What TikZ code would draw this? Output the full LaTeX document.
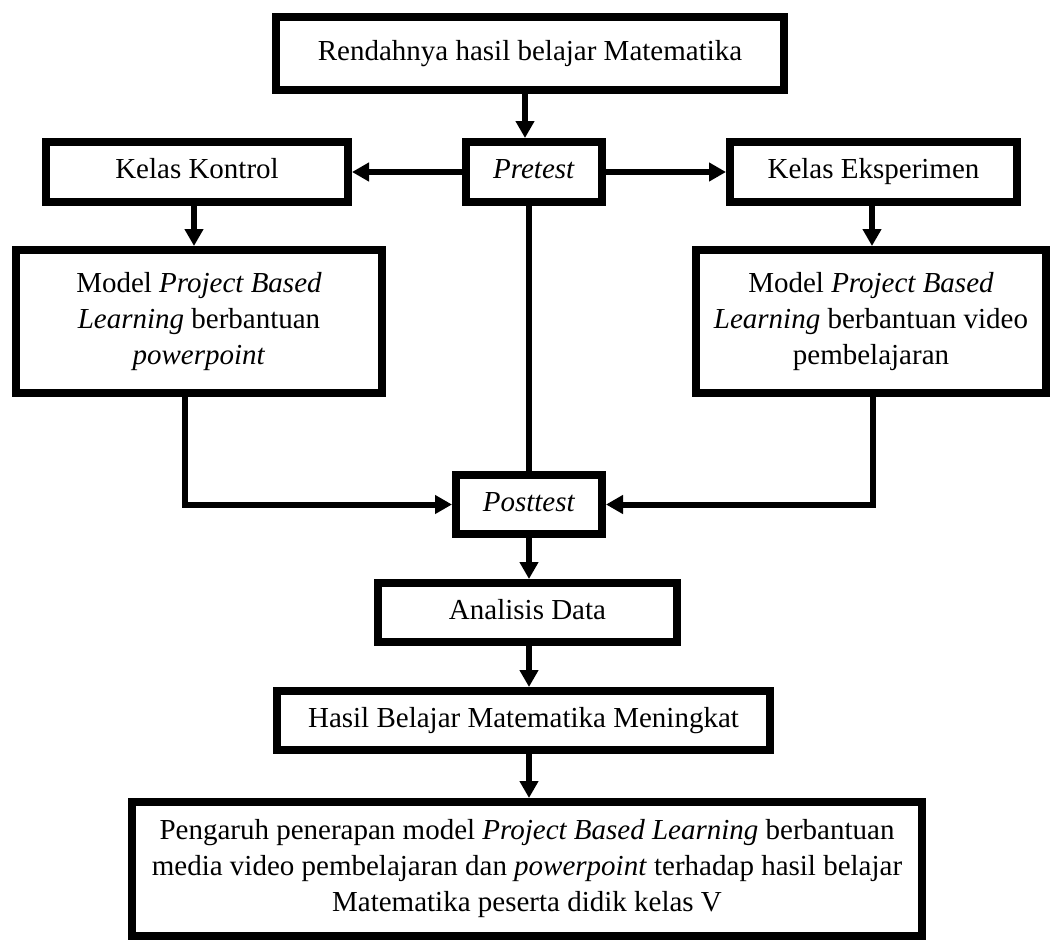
\documentclass[tikz,border=0pt]{standalone}
\usepackage{fontspec}
\setmainfont{Liberation Serif}
\usetikzlibrary{arrows.meta}
\tikzset{
  box/.style={draw=black, line width=8bp, inner sep=0pt, align=center,
    font=\fontsize{29bp}{36bp}\selectfont},
  oneline/.style={text height=19bp, text depth=6bp},
  arr/.style={line width=6bp, -{Triangle[length=17bp,width=18bp]}},
  plain/.style={line width=6bp}
}
\begin{document}
\begin{tikzpicture}[x=1bp,y=-1bp]
\useasboundingbox[fill=white] (0,0) rectangle (1053,945);
\node[box, oneline, minimum width=508bp, minimum height=73bp] (top) at (530,53.5) {Rendahnya hasil belajar Matematika};
\node[box, oneline, minimum width=136bp, minimum height=60bp] (pre) at (534,172) {\textit{Pretest}};
\node[box, oneline, minimum width=302bp, minimum height=60bp] (kk) at (197,172) {Kelas Kontrol};
\node[box, oneline, minimum width=287bp, minimum height=60bp] (ke) at (873.5,172) {Kelas Eksperimen};
\node[box, minimum width=366bp, minimum height=143bp] (ml) at (199,321.5) {Model \textit{Project Based}\\\textit{Learning} berbantuan\\\textit{powerpoint}};
\node[box, minimum width=350bp, minimum height=143bp] (mr) at (871,321.5) {Model \textit{Project Based}\\\textit{Learning} berbantuan video\\pembelajaran};
\node[box, oneline, minimum width=146bp, minimum height=59bp] (post) at (529,504.5) {\textit{Posttest}};
\node[box, oneline, minimum width=299bp, minimum height=59bp] (ana) at (527.5,612.5) {Analisis Data};
\node[box, oneline, minimum width=493bp, minimum height=59bp] (has) at (523.5,720.5) {Hasil Belajar Matematika Meningkat};
\node[box, minimum width=790bp, minimum height=134bp] (fin) at (527,869) {Pengaruh penerapan model \textit{Project Based Learning} berbantuan\\media video pembelajaran dan \textit{powerpoint} terhadap hasil belajar\\Matematika peserta didik kelas V};
\draw[arr] ([xshift=-5bp]top.south) -- ([xshift=-5bp]top.south |- pre.north);
\draw[arr] (pre.west) -- (kk.east);
\draw[arr] (pre.east) -- (ke.west);
\draw[arr] ([xshift=-3bp]kk.south) -- ([xshift=-3bp]kk.south |- ml.north);
\draw[arr] ([xshift=-1.5bp]ke.south) -- ([xshift=-1.5bp]ke.south |- mr.north);
\draw[plain] (pre.south -| post.north) -- (post.north);
\draw[arr] ([xshift=-14bp]ml.south) |- (post.west);
\draw[arr] ([xshift=2bp]mr.south) |- (post.east);
\draw[arr] (post.south) -- (post.south |- ana.north);
\draw[arr] (ana.south -| post.south) -- (post.south |- has.north);
\draw[arr] (has.south -| post.south) -- (post.south |- fin.north);
\end{tikzpicture}
\end{document}
